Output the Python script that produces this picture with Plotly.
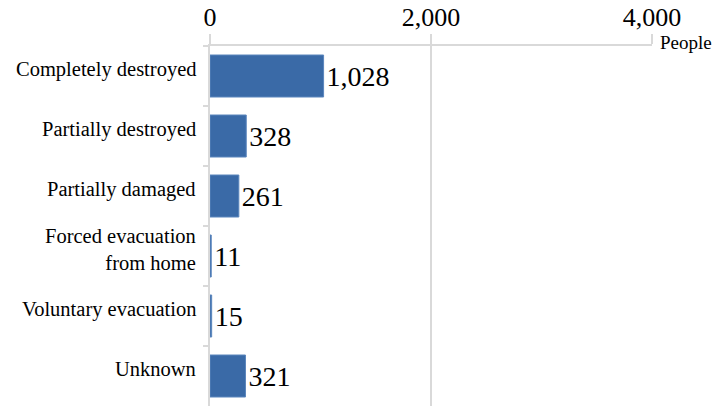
import plotly.graph_objects as go

categories = ["Completely destroyed", "Partially destroyed", "Partially damaged",
              "Forced evacuation<br>from home", "Voluntary evacuation", "Unknown"]
values = [1028, 328, 261, 11, 15, 321]
tick_vals = [0, 2000, 4000]
tick_text = ["0", "2,000", "4,000"]

SERIF = "Liberation Serif"
GRID = "#d9d9d9"

fig = go.Figure(go.Bar(
    x=values, y=categories, orientation="h",
    marker=dict(color="#3a6aa7", line=dict(color="#5b86bd", width=1)),
    width=0.7,
    text=[f"{v:,}" for v in values], textposition="outside",
    textfont=dict(family=SERIF, size=28, color="#000"),
    cliponaxis=False,
))

annotations = [dict(text=c, x=0, y=c, xref="paper", yref="y",
                    xanchor="right", yanchor="middle", align="right",
                    xshift=-12, yshift=7, showarrow=False,
                    font=dict(family=SERIF, size=20.5, color="#000"))
               for c in categories]
annotations.append(dict(text="People", x=1.0, y=1.0, xref="paper", yref="paper",
                        xanchor="left", yanchor="middle", xshift=6, yshift=4, showarrow=False,
                        font=dict(family=SERIF, size=19, color="#000")))

fig.update_layout(
    width=724, height=411,
    margin=dict(l=210, r=72, t=46, b=5, autoexpand=False),
    paper_bgcolor="white", plot_bgcolor="white",
    font=dict(family=SERIF, color="#000"),
    showlegend=False, bargap=0.3,
    xaxis=dict(side="top", range=[0, 4000], tickvals=tick_vals, ticktext=tick_text,
               tickfont=dict(family=SERIF, size=26, color="#000"),
               showgrid=True, gridcolor=GRID, gridwidth=2,
               showline=True, linecolor=GRID, linewidth=2,
               ticks="outside", ticklen=10, tickcolor=GRID, tickwidth=2,
               ticklabelstandoff=-2,
               zeroline=False, fixedrange=True, automargin=False),
    yaxis=dict(autorange="reversed", showticklabels=False,
               showline=True, linecolor=GRID, linewidth=2,
               ticks="outside", tickson="boundaries", ticklen=5, tickcolor=GRID, tickwidth=2,
               showgrid=False, zeroline=False, automargin=False),
    annotations=annotations,
)

fig.write_html("out.html", config={"displayModeBar": False},
               post_script="document.body.style.margin='0';")
